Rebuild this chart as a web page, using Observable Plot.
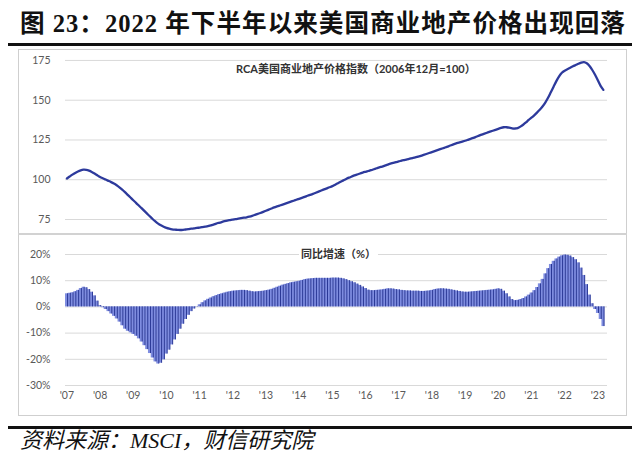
<!DOCTYPE html>
<html>
<head>
<meta charset="utf-8">
<script src="https://cdn.jsdelivr.net/npm/d3@7"></script>
<script src="https://cdn.jsdelivr.net/npm/@observablehq/plot@0.6"></script>
<style>
  html, body { margin: 0; padding: 0; background: #fff; }
  #page { position: relative; width: 640px; height: 453px; overflow: hidden; background: #fff; }
  .abs { position: absolute; }
  #title { left: 20px; top: 8px; font-family: "Liberation Serif", "Noto Sans CJK SC", serif; font-weight: 700; font-size: 24.6px; letter-spacing: 1px; line-height: 32px; color: #111; white-space: nowrap; }
  .rule { left: 8px; width: 624px; height: 3px; background: #111; }
  #frame { left: 18px; top: 49px; width: 609px; height: 367px; border: 1.5px solid #cfcfcf; box-sizing: border-box; }
  #divider { left: 18px; top: 233px; width: 609px; height: 2px; background: #d2d2d2; }
  .sub { font-family: "Lato", "Noto Sans CJK SC", sans-serif; font-size: 11px; font-weight: 700; color: #333; white-space: nowrap; background: #fff; padding: 0 2px; line-height: 14px; }
  #caption { left: 20px; top: 427px; font-family: "Liberation Serif", "Noto Sans CJK SC", serif; font-style: italic; font-size: 22px; line-height: 28px; color: #111; white-space: nowrap; }
  svg { overflow: visible; }
</style>
</head>
<body>
<div id="page">
  <div id="title" class="abs">图 23：2022 年下半年以来美国商业地产价格出现回落</div>
  <div class="abs rule" style="top:43px"></div>
  <div id="frame" class="abs"></div>
  <div id="top" class="abs" style="left:18px; top:50px;"></div>
  <div id="divider" class="abs"></div>
  <div id="bottom" class="abs" style="left:18px; top:234px;"></div>
  <div id="sub1" class="abs sub" style="left:234px; top:62px;">RCA美国商业地产价格指数（2006年12月=100）</div>
  <div id="sub2" class="abs sub" style="left:299px; top:247px;">同比增速（%）</div>
  <div class="abs rule" style="top:426px"></div>
  <div id="caption" class="abs">资料来源：MSCI，财信研究院</div>
</div>
<script>
// Monthly data, Jan 2007 – Mar 2023
const startYear = 2007;
const yearLabels = ["'07","'08","'09","'10","'11","'12","'13","'14","'15","'16","'17","'18","'19","'20","'21","'22","'23"];
const indexTicks = [75, 100, 125, 150, 175];
const yoyTicks = [-30, -20, -10, 0, 10, 20];

// RCA US commercial property price index (Dec 2006 = 100)
const indexValues = [
  100.8, 102.0, 103.2, 104.3, 105.2, 105.9, 106.3, 106.2, 105.7, 104.9, 103.9, 102.8, // 2007
  101.7, 100.9, 100.1,  99.3,  98.5,  97.6,  96.5,  95.2,  93.8,  92.2,  90.5,  88.8, // 2008
   87.1,  85.5,  83.8,  82.1,  80.4,  78.7,  77.0,  75.3,  73.8,  72.4,  71.3,  70.4, // 2009
   69.7,  69.2,  68.8,  68.6,  68.5,  68.4,  68.5,  68.7,  68.9,  69.2,  69.4,  69.7, // 2010
   69.9,  70.2,  70.5,  70.8,  71.3,  71.8,  72.4,  72.9,  73.4,  73.9,  74.3,  74.6, // 2011
   74.9,  75.2,  75.5,  75.8,  76.1,  76.4,  76.8,  77.3,  77.9,  78.5,  79.1,  79.8, // 2012
   80.5,  81.2,  81.9,  82.6,  83.2,  83.8,  84.4,  85.0,  85.6,  86.2,  86.8,  87.4, // 2013
   88.0,  88.6,  89.2,  89.9,  90.5,  91.1,  91.8,  92.5,  93.2,  93.9,  94.6,  95.3, // 2014
   96.0,  96.9,  97.8,  98.7,  99.6, 100.5, 101.3, 102.0, 102.7, 103.3, 103.9, 104.5, // 2015
  105.0, 105.5, 106.0, 106.6, 107.2, 107.8, 108.3, 108.9, 109.5, 110.1, 110.6, 111.1, // 2016
  111.5, 112.0, 112.4, 112.8, 113.2, 113.6, 114.0, 114.5, 115.0, 115.6, 116.2, 116.8, // 2017
  117.4, 118.0, 118.6, 119.2, 119.8, 120.4, 121.0, 121.7, 122.4, 123.0, 123.5, 124.0, // 2018
  124.5, 125.1, 125.7, 126.3, 127.0, 127.7, 128.4, 129.0, 129.6, 130.2, 130.8, 131.4, // 2019
  132.0, 132.6, 133.0, 133.0, 132.7, 132.3, 132.2, 132.5, 133.4, 134.6, 136.0, 137.6, // 2020
  139.0, 140.5, 142.2, 144.0, 146.0, 148.5, 151.5, 155.0, 158.5, 162.0, 165.0, 167.3, // 2021
  168.6, 169.5, 170.4, 171.3, 172.1, 172.9, 173.6, 173.9, 173.2, 171.5, 169.0, 166.0, // 2022
  162.5, 159.0, 156.5                                                                 // 2023
];

// Year-over-year growth (%)
const yoyValues = [
    5.0,   5.2,   5.4,   5.8,   6.3,   7.0,   7.5,   7.3,   6.6,   5.6,   4.2,   2.2, // 2007
    0.5,  -0.3,  -1.0,  -1.8,  -2.7,  -3.6,  -4.6,  -5.8,  -7.2,  -8.5,  -9.3,  -9.9, // 2008
  -10.5, -11.2, -12.2, -13.4, -14.8, -16.3, -17.8, -19.5, -21.0, -21.8, -21.5, -20.2, // 2009
  -18.0, -16.5, -14.5, -12.6, -10.5,  -8.5,  -6.6,  -4.8,  -3.2,  -1.8,  -0.8,   0.1, // 2010
    0.8,   1.6,   2.3,   2.9,   3.4,   3.9,   4.3,   4.7,   5.0,   5.3,   5.6,   5.8, // 2011
    6.0,   6.1,   6.2,   6.3,   6.3,   6.2,   6.0,   5.8,   5.7,   5.8,   5.9,   6.0, // 2012
    6.2,   6.4,   6.7,   7.1,   7.5,   7.9,   8.3,   8.6,   8.9,   9.2,   9.4,   9.6, // 2013
    9.8,  10.1,  10.4,  10.6,  10.7,  10.8,  10.9,  10.9,  10.9,  10.9,  10.9,  10.9, // 2014
   11.0,  11.0,  11.0,  10.9,  10.7,  10.4,  10.0,   9.6,   9.2,   8.7,   8.2,   7.6, // 2015
    7.0,   6.4,   6.2,   6.2,   6.3,   6.4,   6.5,   6.7,   6.9,   6.9,   6.8,   6.6, // 2016
    6.5,   6.3,   6.2,   6.1,   6.1,   6.0,   6.0,   6.0,   5.9,   5.9,   6.0,   6.1, // 2017
    6.3,   6.6,   6.8,   6.9,   6.9,   6.8,   6.7,   6.5,   6.3,   6.1,   5.9,   5.7, // 2018
    5.6,   5.6,   5.7,   5.8,   5.9,   6.0,   6.1,   6.2,   6.3,   6.4,   6.5,   6.7, // 2019
    6.9,   6.7,   6.0,   5.0,   3.8,   2.8,   2.4,   2.5,   2.8,   3.2,   3.8,   4.5, // 2020
    5.3,   6.2,   7.4,   8.8,  10.5,  12.6,  14.6,  16.2,  17.4,  18.3,  19.0,  19.5, // 2021
   19.8,  19.7,  19.4,  18.8,  18.0,  16.8,  14.8,  12.0,   8.5,   4.5,   1.2,  -1.0, // 2022
   -2.5,  -4.8,  -7.5                                                                 // 2023
];

const rows = indexValues.map((v, i) => ({ m: i, v, g: yoyValues[i] }));
const yearTicks = yearLabels.map((_, i) => i * 12);
const xDomain = [-0.5, rows.length + 0.5];
const W = 609;
const baseStyle = { fontFamily: "Lato, 'Noto Sans CJK SC', sans-serif", fontSize: "10.5px", color: "#595959", background: "transparent", overflow: "visible" };

const topPlot = Plot.plot({
  width: W, height: 184,
  marginLeft: 47, marginRight: 20, marginTop: 2, marginBottom: 0.7,
  x: { domain: xDomain, axis: null },
  y: { domain: [66, 180], axis: null },
  style: baseStyle,
  marks: [
    Plot.gridY(indexTicks, { stroke: "#d9d9d9", strokeOpacity: 1 }),
    Plot.axisY(indexTicks, { tickSize: 0, tickPadding: 15, label: null, fill: "#595959" }),
    Plot.line(rows, { x: "m", y: "v", stroke: "#2d3a9c", strokeWidth: 2.3, curve: "natural" })
  ]
});
document.getElementById("top").appendChild(topPlot);

const bottomPlot = Plot.plot({
  width: W, height: 182,
  marginLeft: 47, marginRight: 20, marginTop: 20, marginBottom: 31,
  x: { domain: xDomain, axis: null },
  y: { domain: [-30, 20], axis: null },
  style: baseStyle,
  marks: [
    Plot.gridY(yoyTicks, { stroke: "#d9d9d9", strokeOpacity: 1 }),
    Plot.rect(rows, { x1: d => d.m - 0.5, x2: d => d.m + 0.5, y1: 0, y2: "g", fill: "#7f8de0" }),
    Plot.ruleX(rows, { x: d => d.m + 0.25, y1: 0, y2: "g", stroke: "#2a3896", strokeWidth: 1 }),
    Plot.axisY(yoyTicks, { tickSize: 0, tickPadding: 15, label: null, tickFormat: d => d + "%", fill: "#595959" }),
    Plot.axisX(yearTicks, { tickSize: 0, tickPadding: 6, label: null, tickFormat: d => yearLabels[Math.round(d / 12)], fill: "#595959" })
  ]
});
document.getElementById("bottom").appendChild(bottomPlot);
</script>
</body>
</html>
